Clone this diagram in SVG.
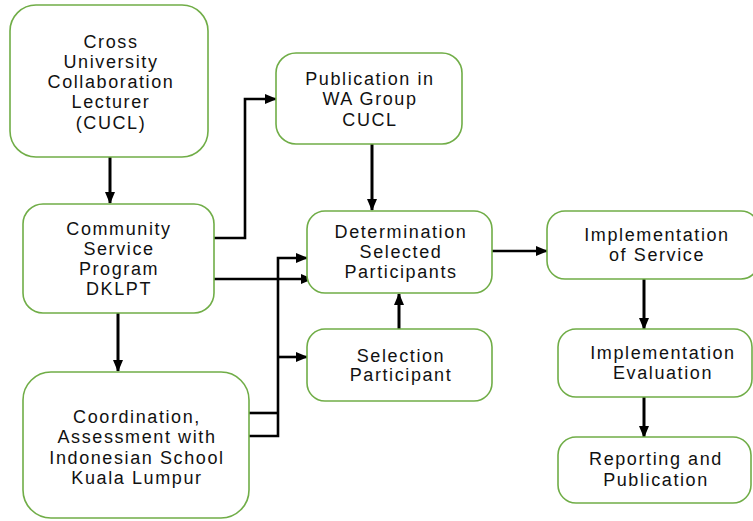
<svg xmlns="http://www.w3.org/2000/svg" width="753" height="521" viewBox="0 0 753 521">
<defs>
<marker id="ah" markerUnits="userSpaceOnUse" markerWidth="12" markerHeight="10" refX="11" refY="5" orient="auto">
<path d="M0,0 L12,5 L0,10 Z" fill="#000"/>
</marker>
<style>
.box{fill:#fff;stroke:#70AD47;stroke-width:1.6}
.t{font-family:"Liberation Sans",Arial,sans-serif;font-size:18px;letter-spacing:1.6px;text-anchor:middle;fill:#111}
.c{fill:none;stroke:#000;stroke-width:3}
.h{fill:none;stroke:#000;stroke-width:2.6}
</style>
</defs>
<rect width="753" height="521" fill="#fff"/>
<g id="connectors">
<path class="c" d="M110,157 V203" marker-end="url(#ah)"/>
<path class="c" d="M118,313 V371" marker-end="url(#ah)"/>
<path class="h" d="M214,238 H245 V99 H276" marker-end="url(#ah)"/>
<path class="h" d="M214,279 H312" marker-end="url(#ah)"/>
<path class="h" d="M249,413 H278"/>
<path class="h" d="M249,436 H278 V258 H307" marker-end="url(#ah)"/>
<path class="h" d="M278,357 H307" marker-end="url(#ah)"/>
<path class="c" d="M372,144 V210" marker-end="url(#ah)"/>
<path class="c" d="M399,329 V294" marker-end="url(#ah)"/>
<path class="h" d="M492,251 H547" marker-end="url(#ah)"/>
<path class="c" d="M644,279 V329" marker-end="url(#ah)"/>
<path class="c" d="M644,397 V437" marker-end="url(#ah)"/>
</g>
<g id="n1"><rect class="box" x="10" y="5" width="198" height="152" rx="26"/>
<text class="t" x="111" y="48">Cross</text><text class="t" x="111" y="68">University</text><text class="t" x="111" y="88">Collaboration</text><text class="t" x="111" y="108">Lecturer</text><text class="t" x="111" y="129">(CUCL)</text></g>
<g id="n2"><rect class="box" x="23" y="204" width="191" height="109" rx="20"/>
<text class="t" x="119" y="235">Community</text><text class="t" x="119" y="255">Service</text><text class="t" x="119" y="275">Program</text><text class="t" x="119" y="295">DKLPT</text></g>
<g id="n3"><rect class="box" x="23" y="372" width="226" height="146" rx="28"/>
<text class="t" x="137" y="423">Coordination,</text><text class="t" x="137" y="443">Assessment with</text><text class="t" x="137" y="464">Indonesian School</text><text class="t" x="137" y="484">Kuala Lumpur</text></g>
<g id="n4"><rect class="box" x="276" y="53" width="186" height="91" rx="20"/>
<text class="t" x="370" y="85">Publication in</text><text class="t" x="370" y="105">WA Group</text><text class="t" x="370" y="126">CUCL</text></g>
<g id="n5"><rect class="box" x="307" y="211" width="185" height="82" rx="18"/>
<text class="t" x="401" y="238">Determination</text><text class="t" x="401" y="258">Selected</text><text class="t" x="401" y="278">Participants</text></g>
<g id="n6"><rect class="box" x="307" y="329" width="185" height="72" rx="18"/>
<text class="t" x="401" y="362">Selection</text><text class="t" x="401" y="381">Participant</text></g>
<g id="n7"><rect class="box" x="547" y="211" width="212" height="68" rx="18"/>
<text class="t" x="657" y="241">Implementation</text><text class="t" x="657" y="261">of Service</text></g>
<g id="n8"><rect class="box" x="558" y="329" width="194" height="68" rx="18"/>
<text class="t" x="663" y="359">Implementation</text><text class="t" x="663" y="379">Evaluation</text></g>
<g id="n9"><rect class="box" x="558" y="437" width="193" height="66" rx="18"/>
<text class="t" x="656" y="465">Reporting and</text><text class="t" x="656" y="486">Publication</text></g>
</svg>
